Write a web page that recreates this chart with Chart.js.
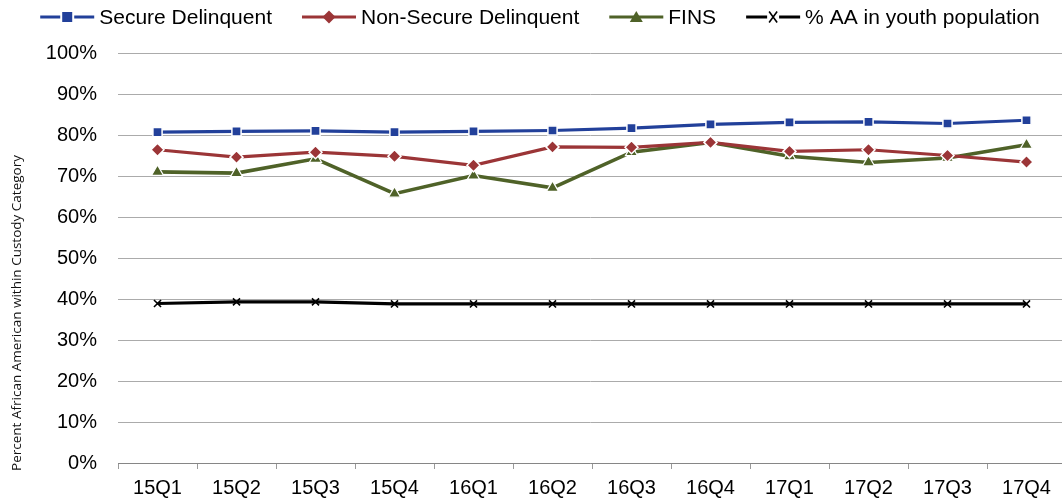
<!DOCTYPE html>
<html>
<head>
<meta charset="utf-8">
<script src="https://cdn.jsdelivr.net/npm/chart.js@4.4.1/dist/chart.umd.min.js"></script>
<style>
  html, body { margin: 0; padding: 0; background: #fff; overflow: hidden; }
  #wrap { width: 1062px; height: 504px; position: relative; overflow: hidden; }
</style>
</head>
<body>
<div id="wrap"><canvas id="c" width="1062" height="504"></canvas></div>
<script>
const categories = ['15Q1','15Q2','15Q3','15Q4','16Q1','16Q2','16Q3','16Q4','17Q1','17Q2','17Q3','17Q4'];
const secureDelinquent = [80.7, 80.9, 81.0, 80.7, 80.9, 81.1, 81.7, 82.6, 83.1, 83.2, 82.8, 83.6];
const nonSecureDelinquent = [76.4, 74.6, 75.8, 74.8, 72.6, 77.1, 77.0, 78.2, 76.0, 76.4, 75.0, 73.4];
const fins = [71.0, 70.7, 74.2, 65.7, 70.1, 67.1, 75.8, 78.2, 74.8, 73.3, 74.4, 77.6];
const aaYouth = [38.9, 39.3, 39.3, 38.8, 38.8, 38.8, 38.8, 38.8, 38.8, 38.8, 38.8, 38.8];
const seriesNames = ['Secure Delinquent', 'Non-Secure Delinquent', 'FINS', '% AA in youth population'];
const yTickValues = [0, 10, 20, 30, 40, 50, 60, 70, 80, 90, 100];
const yTitle = 'Percent African American within Custody Category';

const BLUE = '#22409A', RED = '#9B3537', GREEN = '#4F6228', BLACK = '#000000';
const FONT = "'Liberation Sans', Arial, sans-serif";
const LEGEND_FONT_SIZE = 21;
const PLOT_RIGHT = 1066;

function drawIcon(g, x0, cy, color, style) {
  const cx = x0 + 27;
  g.save();
  g.strokeStyle = color; g.lineWidth = 3;
  g.beginPath(); g.moveTo(x0, cy); g.lineTo(x0 + 54, cy); g.stroke();
  if (style === 'rect') {
    g.fillStyle = '#fff'; g.fillRect(cx - 7, cy - 6, 14, 12);
    g.fillStyle = color; g.fillRect(cx - 5, cy - 5, 10, 10);
  } else if (style === 'rectRot') {
    g.beginPath(); g.moveTo(cx, cy - 6.5); g.lineTo(cx + 6.5, cy); g.lineTo(cx, cy + 6.5); g.lineTo(cx - 6.5, cy); g.closePath();
    g.fillStyle = color; g.fill();
  } else if (style === 'triangle') {
    g.beginPath(); g.moveTo(cx, cy - 6); g.lineTo(cx + 6.5, cy + 5); g.lineTo(cx - 6.5, cy + 5); g.closePath();
    g.fillStyle = color; g.fill();
  } else if (style === 'crossRot') {
    g.fillStyle = '#fff'; g.fillRect(cx - 6, cy - 2, 12, 4);
    g.strokeStyle = color; g.lineWidth = 1.6;
    g.beginPath(); g.moveTo(cx - 4, cy - 5.5); g.lineTo(cx + 4, cy + 5.5); g.moveTo(cx + 4, cy - 5.5); g.lineTo(cx - 4, cy + 5.5); g.stroke();
  }
  g.restore();
}

const customLegend = {
  id: 'customLegend',
  afterDraw(chart) {
    const g = chart.ctx;
    const dsets = chart.data.datasets;
    g.save();
    g.font = LEGEND_FONT_SIZE + 'px ' + FONT;
    g.textBaseline = 'middle';
    g.fillStyle = '#000';
    const iconW = 54, iconGap = 5, itemGap = 30;
    const widths = dsets.map(d => iconW + iconGap + g.measureText(d.label).width);
    const total = widths.reduce((a, b) => a + b, 0) + itemGap * (dsets.length - 1);
    let x = 540 - total / 2;
    const cy = 17;
    dsets.forEach((d, i) => {
      drawIcon(g, x, cy, d.borderColor, d.pointStyle);
      g.fillText(d.label, x + iconW + iconGap, cy + 1);
      x += widths[i] + itemGap;
    });
    g.restore();
  }
};

const yTitlePlugin = {
  id: 'yTitlePlugin',
  afterDraw(chart) {
    const g = chart.ctx;
    g.save();
    g.translate(17, 313);
    g.rotate(-Math.PI / 2);
    g.font = "13.5px 'Open Sans', 'Noto Sans', sans-serif";
    g.fillStyle = '#111';
    g.textAlign = 'center';
    g.textBaseline = 'middle';
    g.fillText(yTitle, 0, 0);
    g.restore();
  }
};

// The reference plot area runs slightly past the right edge of the picture.
const extendRight = {
  id: 'extendRight',
  afterLayout(chart) {
    chart.chartArea.right = PLOT_RIGHT;
    chart.chartArea.width = PLOT_RIGHT - chart.chartArea.left;
    const xs = chart.scales.x;
    xs.right = PLOT_RIGHT;
    xs.width = PLOT_RIGHT - xs.left;
    xs.configure();
    const ys = chart.scales.y;
    ys.configure();
  }
};

function ds(label, data, color, pointStyle, radius, pbw, pbc, bw) {
  return {
    label, data,
    borderColor: color, backgroundColor: color,
    borderWidth: bw,
    pointStyle, pointRadius: radius, pointHoverRadius: radius,
    pointBackgroundColor: color, pointBorderColor: pbc, pointBorderWidth: pbw,
    tension: 0, fill: false, clip: false
  };
}

new Chart(document.getElementById('c'), {
  type: 'line',
  data: {
    labels: categories,
    datasets: [
      ds(seriesNames[0], secureDelinquent, BLUE, 'rect', 6.5, 1.5, '#ffffff', 3.2),
      ds(seriesNames[1], nonSecureDelinquent, RED, 'rectRot', 6.5, 1.5, '#ffffff', 3.2),
      ds(seriesNames[2], fins, GREEN, 'triangle', 7, 1.2, '#ffffff', 3.6),
      ds(seriesNames[3], aaYouth, BLACK, 'crossRot', 5, 1.6, BLACK, 3.2)
    ]
  },
  plugins: [extendRight, customLegend, yTitlePlugin],
  options: {
    responsive: false,
    animation: false,
    devicePixelRatio: 1,
    layout: { padding: { left: 0, right: 0, top: 53, bottom: 0 } },
    plugins: {
      tooltip: { enabled: false },
      legend: { display: false }
    },
    scales: {
      x: {
        offset: true,
        afterFit(scale) { scale.paddingLeft = 0; scale.paddingRight = 0; scale.height = 41; },
        grid: { display: true, drawOnChartArea: false, drawTicks: true, tickLength: 6, offset: true, color: '#9a9a9a' },
        border: { display: true, color: '#868686', width: 1 },
        ticks: { color: '#000', font: { family: FONT, size: 20 }, padding: 7, maxRotation: 0, autoSkip: false }
      },
      y: {
        min: 0, max: 100,
        afterFit(scale) { scale.width = 118; scale.paddingTop = 0; scale.paddingBottom = 0; },
        afterBuildTicks(scale) { scale.ticks = yTickValues.map(v => ({ value: v })); },
        grid: { color: '#ababab', lineWidth: 1, drawTicks: false },
        border: { display: false },
        ticks: { color: '#000', font: { family: FONT, size: 20 }, padding: 21, callback: v => v + '%' }
      }
    }
  }
});
</script>
</body>
</html>
